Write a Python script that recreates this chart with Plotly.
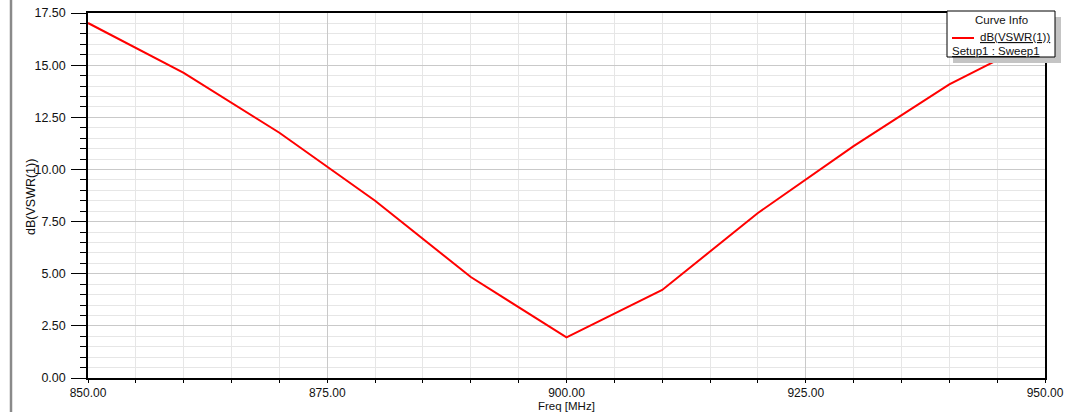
import plotly.graph_objects as go

# Data
freq_mhz = [850, 860, 870, 880, 890, 900, 910, 920, 930, 940, 945, 950]
vswr_db = [17.02, 14.63, 11.76, 8.50, 4.84, 1.95, 4.22, 7.91, 11.12, 14.08, 15.24, 16.35]
x_ticks = [850, 875, 900, 925, 950]
y_ticks = [0, 2.5, 5, 7.5, 10, 12.5, 15, 17.5]

W, H = 1066, 412
L, R, T, B = 88, 21, 13, 34
PW, PH = W - L - R, H - T - B


def px(x):
    return (x - L) / PW


def py(y):
    return (H - B - y) / PH


FONT = "Liberation Sans, Arial, sans-serif"

fig = go.Figure()
fig.add_trace(go.Scatter(x=freq_mhz, y=vswr_db, mode="lines",
                         line=dict(color="#ff0000", width=2),
                         name="dB(VSWR(1))", showlegend=False,
                         cliponaxis=True))

fig.update_xaxes(
    range=[850, 950], tickmode="array", tickvals=x_ticks,
    ticktext=[f"{v:.2f}" for v in x_ticks],
    showgrid=True, gridcolor="#c9c9c9", gridwidth=1,
    ticks="outside", ticklen=3, tickcolor="#000", tickwidth=1,
    showline=True, linecolor="#000", linewidth=1.5, mirror=True,
    zeroline=False, automargin=False,
    minor=dict(dtick=5, tick0=850, showgrid=True, gridcolor="#e6e6e6",
               ticks="outside", ticklen=3, tickcolor="#000"),
    tickfont=dict(family=FONT, size=12, color="#111"),
)
fig.update_yaxes(
    range=[0, 17.5], tickmode="array", tickvals=y_ticks,
    ticktext=[f"{v:.2f}" for v in y_ticks],
    showgrid=True, gridcolor="#c9c9c9", gridwidth=1,
    ticks="outside", ticklen=15, tickcolor="#000", tickwidth=1,
    showline=True, linecolor="#000", linewidth=1.5, mirror=True,
    zeroline=False, automargin=False,
    minor=dict(dtick=0.5, tick0=0, showgrid=True, gridcolor="#e6e6e6",
               ticks="outside", ticklen=6, tickcolor="#000"),
    tickfont=dict(family=FONT, size=12.5, color="#111"),
    ticklabelstandoff=3,
)

shapes = []
annotations = []
# window border on the left
shapes.append(dict(type="line", xref="paper", yref="paper",
                   x0=px(11), x1=px(11), y0=py(0), y1=py(H),
                   line=dict(color="#8a8a8a", width=2.5)))
# legend shadow and box
shapes.append(dict(type="rect", xref="paper", yref="paper",
                   x0=px(953), x1=px(1061), y0=py(63), y1=py(17),
                   fillcolor="#c4c4c4", line=dict(width=0)))
shapes.append(dict(type="rect", xref="paper", yref="paper",
                   x0=px(947), x1=px(1055), y0=py(57), y1=py(11),
                   fillcolor="#ffffff", line=dict(color="#000", width=1)))
shapes.append(dict(type="line", xref="paper", yref="paper",
                   x0=px(952), x1=px(974), y0=py(38), y1=py(38),
                   line=dict(color="#ff0000", width=2)))

LEG = 11.5
annotations.append(dict(text="Curve Info", xref="paper", yref="paper",
                        x=px(1001), y=py(20), showarrow=False,
                        xanchor="center", yanchor="middle",
                        font=dict(family=FONT, size=LEG, color="#111")))
annotations.append(dict(text="<u>dB(VSWR(1))</u>", xref="paper", yref="paper",
                        x=px(1052), y=py(37), showarrow=False,
                        xanchor="right", yanchor="middle",
                        font=dict(family=FONT, size=LEG, color="#111")))
annotations.append(dict(text="<u>Setup1 : Sweep1</u>", xref="paper", yref="paper",
                        x=px(950), y=py(51), showarrow=False,
                        xanchor="left", yanchor="middle",
                        font=dict(family=FONT, size=LEG, color="#111")))
# axis titles
annotations.append(dict(text="Freq [MHz]", xref="paper", yref="paper",
                        x=px(566), y=py(405.5), showarrow=False,
                        xanchor="center", yanchor="middle",
                        font=dict(family=FONT, size=11.5, color="#111")))
annotations.append(dict(text="dB(VSWR(1))", xref="paper", yref="paper",
                        x=px(31), y=py(197), showarrow=False, textangle=-90,
                        xanchor="center", yanchor="middle",
                        font=dict(family=FONT, size=12.5, color="#111")))

fig.update_layout(
    width=W, height=H,
    margin=dict(l=L, r=R, t=T, b=B, pad=0, autoexpand=False),
    paper_bgcolor="#ffffff", plot_bgcolor="#ffffff",
    showlegend=False,
    shapes=shapes, annotations=annotations,
    font=dict(family=FONT, size=12, color="#111"),
)

fig.write_html(
    "out.html",
    config={"displayModeBar": False},
    post_script="document.body.style.margin='0px';document.body.style.overflow='hidden';",
)
